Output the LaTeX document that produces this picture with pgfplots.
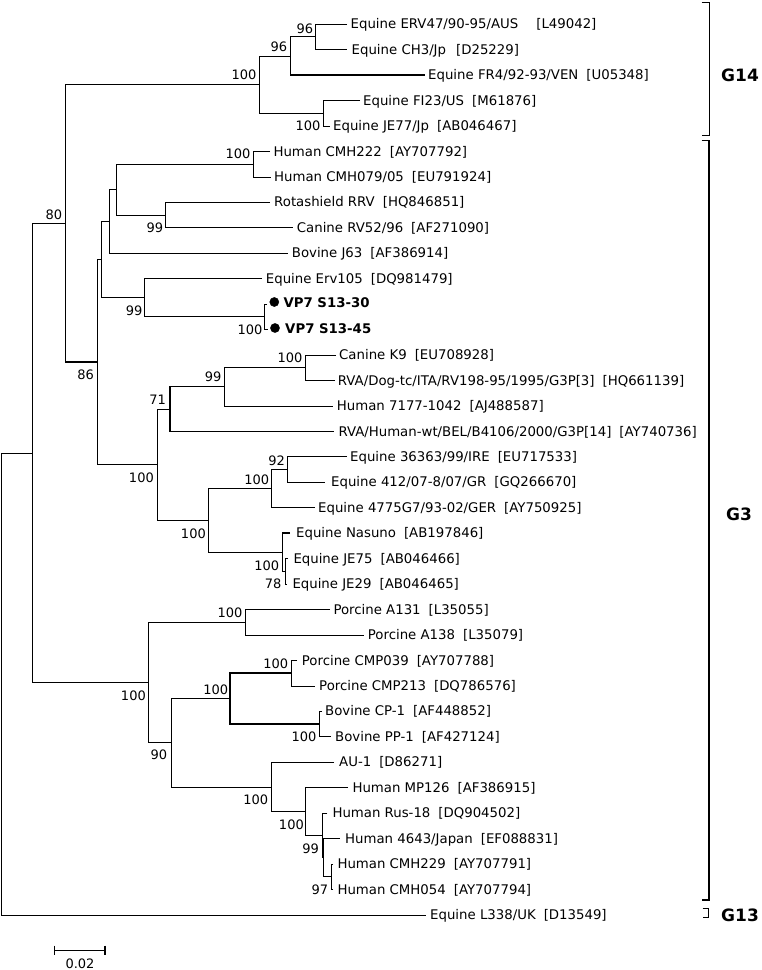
\documentclass[border=0pt]{standalone}
\usepackage{fontspec}
\setmainfont{DejaVu Sans}
\usepackage{pgfplots}
\pgfplotsset{compat=1.18}
\newcommand{\lf}{\fontsize{13.3bp}{16bp}\selectfont}
\newcommand{\bsf}{\fontsize{13bp}{16bp}\selectfont}
\newcommand{\leaf}[3]{\node[anchor=base west, inner sep=0pt, font=\lf] at (axis cs:#1,#2) {#3};}
\newcommand{\bs}[3]{\node[anchor=east, inner sep=0pt, font=\bsf] at (axis cs:#1,#2) {#3};}
\newcommand{\gap}{\hspace{8bp}}
\begin{document}
\begin{tikzpicture}
\begin{axis}[scale only axis, width=761bp, height=970bp, xmin=0, xmax=761, ymin=0, ymax=970,
  y dir=reverse, hide axis, clip=false,
  cycle list={{black, solid, line width=1.3bp, mark=none}}]
\addplot[draw=none] coordinates {(0,0) (761,970)};
% ---- tree branches (each internal node: child1 -> node -> child2)
% G14
\addplot coordinates {(347,24) (315.3,24) (315.3,49.45) (347,49.45)};
\addplot coordinates {(315.3,36.73) (290.7,36.73) (290.7,74.9) (425,74.9)};
\addplot coordinates {(360,100.35) (323.3,100.35) (323.3,125.8) (330,125.8)};
\addplot coordinates {(290.7,55.8) (258.7,55.8) (258.7,113.08) (323.3,113.08)};
% G3 upper
\addplot coordinates {(270,151.25) (253.3,151.25) (253.3,176.7) (271,176.7)};
\addplot coordinates {(270,202.15) (165.7,202.15) (165.7,227.6) (293,227.6)};
\addplot coordinates {(253.3,163.98) (115.7,163.98) (115.7,214.88) (165.7,214.88)};
\addplot coordinates {(115.7,189.43) (109,189.43) (109,253.05) (288,253.05)};
\addplot coordinates {(267,303.95) (264.3,303.95) (264.3,329.4) (268,329.4)};
\addplot coordinates {(262,278.5) (144.3,278.5) (144.3,316.68) (264.3,316.68)};
\addplot coordinates {(109,221.24) (101.5,221.24) (101.5,297.59) (144.3,297.59)};
\addplot coordinates {(336,354.85) (305,354.85) (305,380.3) (334.5,380.3)};
\addplot coordinates {(305,367.58) (224,367.58) (224,405.75) (333,405.75)};
\addplot coordinates {(224,386.66) (170,386.66) (170,431.2) (334,431.2)};
\addplot coordinates {(347,456.65) (287.3,456.65) (287.3,482.1) (325,482.1)};
\addplot coordinates {(287.3,469.38) (270.7,469.38) (270.7,507.55) (315,507.55)};
\addplot coordinates {(288,558.45) (285,558.45) (285,583.9) (287,583.9)};
\addplot coordinates {(290,533) (282.7,533) (282.7,571.18) (285,571.18)};
\addplot coordinates {(270.7,488.46) (208.3,488.46) (208.3,552.09) (282.7,552.09)};
\addplot coordinates {(170,408.93) (156.7,408.93) (156.7,520.28) (208.3,520.28)};
\addplot coordinates {(101.5,259.42) (96.7,259.42) (96.7,464.6) (156.7,464.6)};
\addplot coordinates {(258.7,84.44) (65.3,84.44) (65.3,362.01) (96.7,362.01)};
% G3 lower
\addplot coordinates {(330,609.35) (245,609.35) (245,634.8) (364,634.8)};
\addplot coordinates {(297,660.25) (290.7,660.25) (290.7,685.7) (315,685.7)};
\addplot coordinates {(322,711.15) (319.3,711.15) (319.3,736.6) (331,736.6)};
\addplot coordinates {(290.7,672.98) (230,672.98) (230,723.88) (319.3,723.88)};
\addplot coordinates {(333,863.85) (330.7,863.85) (330.7,889.3) (333,889.3)};
\addplot coordinates {(339.5,838.4) (323.3,838.4) (323.3,876.58) (330.7,876.58)};
\addplot coordinates {(327.3,812.95) (321.7,812.95) (321.7,857.49) (323.3,857.49)};
\addplot coordinates {(348,787.5) (305.7,787.5) (305.7,835.22) (321.7,835.22)};
\addplot coordinates {(334,762.05) (271,762.05) (271,811.36) (305.7,811.36)};
\addplot coordinates {(230,698.43) (170.7,698.43) (170.7,786.7) (271,786.7)};
\addplot coordinates {(245,622.08) (148.3,622.08) (148.3,742.57) (170.7,742.57)};
\addplot coordinates {(65.3,223.23) (32.3,223.23) (32.3,682.33) (148.3,682.33)};
\addplot coordinates {(32.3,452.78) (1.5,452.78) (1.5,914.75) (426,914.75)};
% markers for the study sequences
\addplot[black, only marks, mark=*, mark size=4.6pt] coordinates {(274.3,302) (275,328)};
% brackets
\addplot coordinates {(701.7,2) (709,2) (709,135) (701.7,135)};
\addplot coordinates {(701.7,140.7) (709,140.7) (709,900) (701.7,900)};
\addplot coordinates {(702.7,907.7) (708.3,907.7) (708.3,916.7) (702.7,916.7)};
% scale bar
\addplot coordinates {(54,950) (105,950)};
\addplot coordinates {(54,945.5) (54,954.5)};
\addplot coordinates {(105,945.5) (105,954.5)};
% ---- leaf labels
\leaf{350.5}{28.8}{Equine ERV47/90-95/AUS\hspace{18bp}[L49042]}
\leaf{351.5}{54.25}{Equine CH3/Jp\hspace{10bp}[D25229]}
\leaf{428}{79.7}{Equine FR4/92-93/VEN\gap[U05348]}
\leaf{363}{105.15}{Equine FI23/US\gap[M61876]}
\leaf{333}{130.6}{Equine JE77/Jp\gap[AB046467]}
\leaf{273.3}{156.05}{Human CMH222\gap[AY707792]}
\leaf{274}{181.5}{Human CMH079/05\gap[EU791924]}
\leaf{274}{206.95}{Rotashield RRV\gap[HQ846851]}
\leaf{296.7}{232.4}{Canine RV52/96\gap[AF271090]}
\leaf{291.7}{257.85}{Bovine J63\gap[AF386914]}
\leaf{265.7}{283.3}{Equine Erv105\gap[DQ981479]}
\leaf{283.3}{307.2}{\bfseries VP7 S13-30}
\leaf{285}{333.2}{\bfseries VP7 S13-45}
\leaf{339}{359.65}{Canine K9\gap[EU708928]}
\leaf{337.7}{385.1}{RVA/Dog-tc/ITA/RV198-95/1995/G3P[3]\gap[HQ661139]}
\leaf{336.7}{410.55}{Human 7177-1042\gap[AJ488587]}
\leaf{338.3}{436}{RVA/Human-wt/BEL/B4106/2000/G3P[14]\gap[AY740736]}
\leaf{350}{461.45}{Equine 36363/99/IRE\gap[EU717533]}
\leaf{331}{486.9}{Equine 412/07-8/07/GR\gap[GQ266670]}
\leaf{318}{512.35}{Equine 4775G7/93-02/GER\gap[AY750925]}
\leaf{296}{537.8}{Equine Nasuno\gap[AB197846]}
\leaf{293.3}{563.25}{Equine JE75\gap[AB046466]}
\leaf{292.3}{588.7}{Equine JE29\gap[AB046465]}
\leaf{333.3}{614.15}{Porcine A131\gap[L35055]}
\leaf{367.7}{639.6}{Porcine A138\gap[L35079]}
\leaf{301.7}{665.05}{Porcine CMP039\gap[AY707788]}
\leaf{319}{690.5}{Porcine CMP213\gap[DQ786576]}
\leaf{325}{715.95}{Bovine CP-1\gap[AF448852]}
\leaf{335}{741.4}{Bovine PP-1\gap[AF427124]}
\leaf{339}{766.85}{AU-1\gap[D86271]}
\leaf{352.3}{792.3}{Human MP126\gap[AF386915]}
\leaf{332.3}{817.75}{Human Rus-18\gap[DQ904502]}
\leaf{345}{843.2}{Human 4643/Japan\gap[EF088831]}
\leaf{337.3}{868.65}{Human CMH229\gap[AY707791]}
\leaf{337.3}{894.1}{Human CMH054\gap[AY707794]}
\leaf{430}{919.55}{Equine L338/UK\gap[D13549]}
% ---- bootstrap values
\bs{313.3}{28.3}{96}
\bs{287.3}{46.7}{96}
\bs{256.7}{75}{100}
\bs{320.7}{126}{100}
\bs{250.7}{154}{100}
\bs{163.3}{227.7}{99}
\bs{62.3}{214.3}{80}
\bs{142.7}{310.7}{99}
\bs{262.7}{330}{100}
\bs{94}{375}{86}
\bs{302.7}{357.3}{100}
\bs{221.7}{376.7}{99}
\bs{166}{400}{71}
\bs{154}{477.3}{100}
\bs{285}{460.5}{92}
\bs{269.3}{479.3}{100}
\bs{206}{533.3}{100}
\bs{279.3}{566}{100}
\bs{281.7}{584}{78}
\bs{242.7}{612.3}{100}
\bs{146}{695.7}{100}
\bs{288.3}{663.3}{100}
\bs{228.3}{689.3}{100}
\bs{316.7}{736.7}{100}
\bs{167.3}{755}{90}
\bs{268.3}{799.3}{100}
\bs{304}{825}{100}
\bs{319}{848.3}{99}
\bs{328.3}{890}{97}
% ---- group labels and scale
\node[anchor=west, inner sep=0pt, font=\fontsize{17bp}{20bp}\selectfont\bfseries] at (axis cs:721,75) {G14};
\node[anchor=west, inner sep=0pt, font=\fontsize{17bp}{20bp}\selectfont\bfseries] at (axis cs:726,514) {G3};
\node[anchor=west, inner sep=0pt, font=\fontsize{17bp}{20bp}\selectfont\bfseries] at (axis cs:721,915) {G13};
\node[anchor=center, inner sep=0pt, font=\bsf] at (axis cs:80,963.5) {0.02};
\end{axis}
\end{tikzpicture}
\end{document}
